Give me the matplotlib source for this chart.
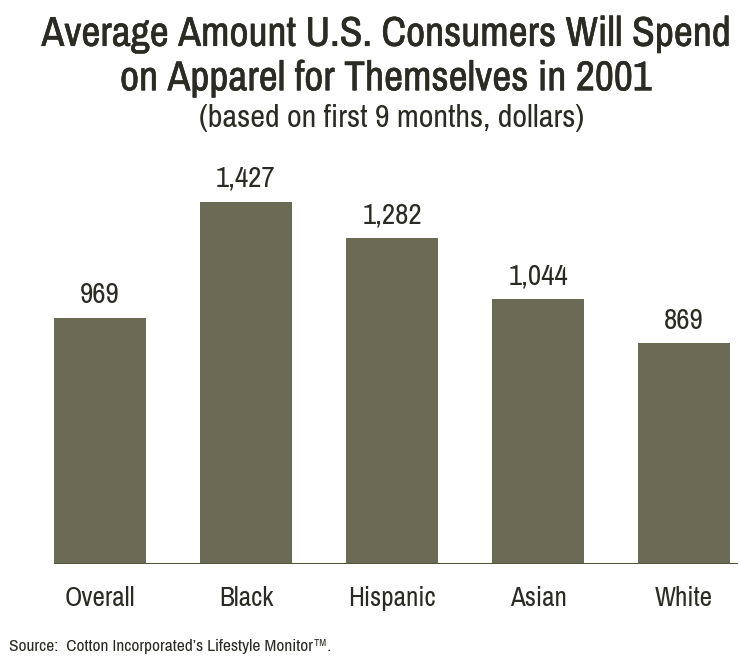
import matplotlib.pyplot as plt
import matplotlib.patheffects as pe

categories = ['Overall', 'Black', 'Hispanic', 'Asian', 'White']
spend = [969, 1427, 1282, 1044, 869]
value_labels = ['969', '1,427', '1,282', '1,044', '869']

plt.rcParams['font.family'] = ['Archivo Narrow', 'DejaVu Sans']
ink = '#2b2b24'
bar_col = '#6b6b55'

fig = plt.figure(figsize=(7.38, 6.63), dpi=100)
ax = fig.add_axes([54 / 738, 99 / 663, 684 / 738, 414 / 663])

xs = range(len(categories))
ax.bar(xs, spend, width=0.63, color=bar_col, zorder=2)
ax.axhline(0, color='#55553f', lw=1.5, zorder=3)
ax.set_xlim(-0.315, 4.37)
ax.set_ylim(0, 1630)

for x, v, lab in zip(xs, spend, value_labels):
    ax.text(x, v + 38, lab, ha='center', va='bottom', fontsize=21, color=ink)

ax.set_xticks(list(xs))
ax.set_xticklabels(categories, fontsize=19.5, color=ink)
ax.tick_params(axis='x', length=0, pad=16)
ax.set_yticks([])
for s in ax.spines.values():
    s.set_visible(False)

# slightly heavier strokes for the headline
bold_fx = [pe.withStroke(linewidth=0.4, foreground=ink)]
fig.text(0.523, 0.949, 'Average Amount U.S. Consumers Will Spend', ha='center', va='center',
         fontsize=30, color=ink, path_effects=bold_fx)
fig.text(0.523, 0.882, 'on Apparel for Themselves in 2001', ha='center', va='center',
         fontsize=30, color=ink, path_effects=bold_fx)
fig.text(0.531, 0.822, '(based on first 9 months, dollars)', ha='center', va='center',
         fontsize=23.2, color=ink)
fig.text(0.012, 0.025, 'Source:  Cotton Incorporated\u2019s Lifestyle Monitor\u2122.', ha='left', va='center',
         fontsize=12.5, color=ink)

fig.savefig('out.png', dpi=100)
